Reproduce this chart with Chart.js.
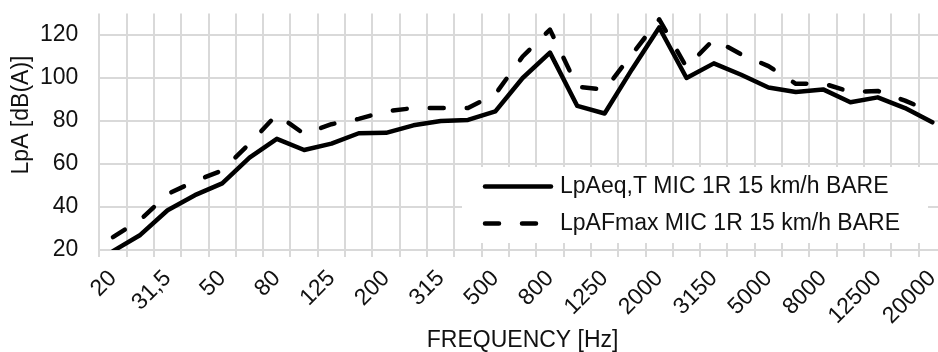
<!DOCTYPE html>
<html>
<head>
<meta charset="utf-8">
<script src="https://cdn.jsdelivr.net/npm/chart.js@4/dist/chart.umd.min.js"></script>
<style>
html,body{margin:0;padding:0;overflow:hidden;background:#fff}
#wrap{width:946px;height:352px}
</style>
</head>
<body>
<div id="wrap"><canvas id="c"></canvas></div>
<script>
// 1/3 octave bands (only every other one gets a label on the axis)
const BANDS=['20','25','31,5','40','50','63','80','100','125','160','200','250','315','400','500',
  '630','800','1000','1250','1600','2000','2500','3150','4000','5000','6300','8000','10000','12500','16000','20000'];
const SERIES=['LpAeq,T MIC 1R 15 km/h BARE','LpAFmax MIC 1R 15 km/h BARE'];
const LP_AEQ=[19.5,27,38.5,45.5,51,63,71.7,66.5,69.5,74.3,74.5,78,80,80.5,84.5,
  100,111.8,87,83.5,104,123.5,100,106.8,101.5,95.6,93.5,94.7,88.7,91,86,79.4];
const LP_AFMAX=[26,34,46,52,57,69.5,83,74,78.5,81,84.5,86,86,86,92.5,
  110,122.5,96,94.5,111,127.3,105,118,111,105.5,97.3,97.5,93.5,94,89.5,84];
const Y_TICKS=[20,40,60,80,100,120];
const Y_TITLE='LpA [dB(A)]';
const X_TITLE='FREQUENCY [Hz]';

const TXT='#111';
const GRID='#d9d9d9';
const FONT={family:'"Liberation Sans", Arial, sans-serif',size:23};
const fontStr=()=>`${FONT.size}px ${FONT.family}`;

// legend inside the plot, white box over the grid (like the Excel original)
const legendBox={
  id:'legendBox',
  afterDatasetsDraw(chart){
    const ctx=chart.ctx;
    ctx.save();
    ctx.fillStyle='#fff';
    ctx.fillRect(462,167,466,76);
    chart.data.datasets.forEach((ds,i)=>{
      const y=186.5+i*37;
      ctx.strokeStyle=ds.borderColor;
      ctx.lineWidth=ds.borderWidth;
      ctx.lineCap='round';
      ctx.setLineDash(ds.borderDash||[]);
      ctx.beginPath(); ctx.moveTo(485,y); ctx.lineTo(551,y); ctx.stroke();
      ctx.setLineDash([]);
      ctx.fillStyle=TXT; ctx.font=fontStr();
      ctx.textAlign='left'; ctx.textBaseline='middle';
      ctx.fillText(ds.label,560,y);
    });
    ctx.restore();
  }
};

// y title sits a bit above the plot centre in the original, so draw it by hand
const yTitle={
  id:'yTitle',
  afterDraw(chart){
    const ctx=chart.ctx;
    ctx.save();
    ctx.translate(22,115);
    ctx.rotate(-Math.PI/2);
    ctx.fillStyle=TXT; ctx.font=fontStr();
    ctx.textAlign='center'; ctx.textBaseline='middle';
    ctx.fillText(Y_TITLE,0,0);
    ctx.restore();
  }
};

new Chart(document.getElementById('c'),{
  type:'line',
  data:{
    labels:BANDS,
    datasets:[
      {label:SERIES[0],data:LP_AEQ,borderColor:'#000',borderWidth:4.5,pointRadius:0,tension:0,
        borderJoinStyle:'round',borderCapStyle:'round'},
      {label:SERIES[1],data:LP_AFMAX,borderColor:'#000',borderWidth:4.5,pointRadius:0,tension:0,
        borderDash:[14,23],borderJoinStyle:'round',borderCapStyle:'round'},
    ]
  },
  options:{
    responsive:true,maintainAspectRatio:false,animation:false,
    layout:{padding:{top:13.5,right:0,left:0,bottom:0}},
    plugins:{legend:{display:false},tooltip:{enabled:false}},
    scales:{
      x:{
        offset:true,
        grid:{offset:true,color:GRID,lineWidth:2,tickLength:7},
        border:{color:GRID,width:2},
        ticks:{autoSkip:false,maxRotation:45,minRotation:45,color:TXT,font:FONT,padding:8,
          callback:(v,i)=>i%2===0?BANDS[i]:''},
        title:{display:true,text:X_TITLE,color:TXT,font:FONT,padding:{top:0,bottom:-2}},
        afterFit:s=>{s.height=102;s.paddingLeft=0;s.paddingRight=0;}
      },
      y:{
        min:20,max:130,
        ticks:{color:TXT,font:FONT,padding:21},
        // top of the axis is 130 but it carries no tick, label or grid line
        afterBuildTicks:s=>{s.ticks=Y_TICKS.map(v=>({value:v}));},
        grid:{color:GRID,lineWidth:2,drawTicks:false},
        border:{display:false},
        afterFit:s=>{s.width=99.3;s.paddingTop=0;s.paddingBottom=0;}
      }
    }
  },
  plugins:[legendBox,yTitle]
});
</script>
</body>
</html>
